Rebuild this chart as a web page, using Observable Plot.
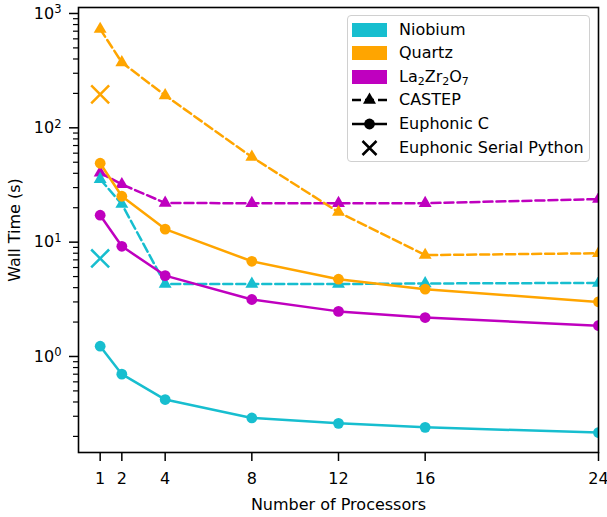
<!DOCTYPE html>
<html>
<head>
<meta charset="utf-8">
<script src="https://cdn.jsdelivr.net/npm/d3@7"></script>
<script src="https://cdn.jsdelivr.net/npm/@observablehq/plot@0.6"></script>
<style>
  html, body { margin: 0; padding: 0; background: white; }
  #wrap { position: relative; width: 607px; height: 517px; font-family: "DejaVu Sans", sans-serif; }
  #legend { position: absolute; left: 347px; top: 15px; width: 241px; height: 145px;
    border: 1.5px solid #d0d0d0; border-radius: 4px; background: rgba(255,255,255,0.85); font-size: 16px; color: #000; }
  .row { position: absolute; left: 0; height: 20px; width: 100%; }
  .row svg { position: absolute; left: 4px; top: 0; }
  .row span { position: absolute; left: 51px; top: 0; line-height: 20px; white-space: nowrap; }
  sub { font-size: 11px; vertical-align: -3px; line-height: 0; }
</style>
</head>
<body>
<div id="wrap"></div>
<script>
// ---- data ----
const procs = [1, 2, 4, 8, 12, 16, 24];
const materials = ["Niobium", "Quartz", "La2Zr2O7"];
const colors = ["#17becf", "#ffa500", "#bf00bf"];
const niobiumCastep = [35.5, 21.5, 4.3, 4.3, 4.3, 4.35, 4.4];
const niobiumEuphonicC = [1.23, 0.70, 0.42, 0.29, 0.26, 0.24, 0.216];
const niobiumSerialPython = [7.2];
const quartzCastep = [730, 373, 192, 55.5, 18.3, 7.7, 8.0];
const quartzEuphonicC = [49, 25.2, 13, 6.8, 4.74, 3.88, 3.0];
const quartzSerialPython = [196];
const laCastep = [40.4, 32, 22, 21.9, 21.9, 21.9, 23.8];
const laEuphonicC = [17.2, 9.2, 5.1, 3.15, 2.48, 2.19, 1.86];
const laSerialPython = [];
const serialProcs = [1];
const yMajorTicks = [1, 10, 100, 1000];
const yMajorExponents = ["0", "1", "2", "3"];
const xLabel = "Number of Processors";
const yLabel = "Wall Time (s)";

const rows = (xs, ys) => ys.map((v, i) => ({x: xs[i], y: v}));
const castep = [niobiumCastep, quartzCastep, laCastep];
const euph = [niobiumEuphonicC, quartzEuphonicC, laEuphonicC];
const serial = [niobiumSerialPython, quartzSerialPython, laSerialPython];

const yMinor = [];
for (const d of [0.1, 1, 10, 100]) for (let k = 2; k <= 9; k++) yMinor.push(+(k * d).toPrecision(3));

const marks = [];
// CASTEP lines (dashed, triangles)
for (const i of [2, 1, 0]) {
  const data = rows(procs, castep[i]);
  marks.push(Plot.line(data, {x: "x", y: "y", stroke: colors[i], strokeWidth: 2.5, strokeDasharray: "9,4", clip: true}));
  marks.push(Plot.dot(data, {x: "x", y: "y", symbol: "triangle", r: 4.8, fill: colors[i], stroke: "none", clip: true}));
}
// Euphonic C lines (solid, circles)
for (const i of [2, 1, 0]) {
  const data = rows(procs, euph[i]);
  marks.push(Plot.line(data, {x: "x", y: "y", stroke: colors[i], strokeWidth: 2.5, clip: true}));
  marks.push(Plot.dot(data, {x: "x", y: "y", symbol: "circle", r: 5.4, fill: colors[i], stroke: "none", clip: true}));
}
// Euphonic serial python (X)
for (const i of [0, 1, 2]) {
  const data = rows(serialProcs, serial[i]);
  marks.push(Plot.dot(data, {x: "x", y: "y", symbol: "times", r: 8.2, stroke: colors[i], strokeWidth: 2.5, clip: true}));
}

const chart = Plot.plot({
  width: 607, height: 517,
  marginLeft: 78, marginRight: 9, marginTop: 7, marginBottom: 65,
  style: {fontFamily: "DejaVu Sans, sans-serif", fontSize: "16px", color: "black", background: "white", overflow: "visible"},
  x: {domain: [0, 24]},
  y: {type: "log", domain: [0.1446, 1128]},
  marks: [
    ...marks,
    Plot.axisX({ticks: procs, tickSize: 9, tickPadding: 11, strokeWidth: 1.5, tickFormat: d => String(d),
      label: xLabel, labelAnchor: "center", labelArrow: "none", labelOffset: 57}),
    Plot.axisY({ticks: yMajorTicks, tickSize: 9, tickPadding: 8, strokeWidth: 1.5,
      tickFormat: d => "10^" + yMajorExponents[yMajorTicks.indexOf(d)],
      label: yLabel, labelAnchor: "center", labelArrow: "none", labelOffset: 70}),
    Plot.axisY({ticks: yMinor, tickSize: 5, strokeWidth: 1.2, tickFormat: () => "", label: null}),
    Plot.frame({stroke: "black", strokeWidth: 1.6})
  ]
});

// render y tick labels as 10 with a raised exponent
chart.querySelectorAll('g[aria-label="y-axis tick label"] text').forEach(t => {
  const s = t.textContent;
  if (s.startsWith("10^")) {
    const exp = s.slice(3);
    t.textContent = "";
    const base = document.createElementNS("http://www.w3.org/2000/svg", "tspan");
    base.textContent = "10";
    const sup = document.createElementNS("http://www.w3.org/2000/svg", "tspan");
    sup.textContent = exp;
    sup.setAttribute("dy", "-0.45em");
    sup.setAttribute("font-size", "11.5px");
    t.appendChild(base);
    t.appendChild(sup);
  }
});

const wrap = document.getElementById("wrap");
wrap.appendChild(chart);

// ---- legend ----
const legend = document.createElement("div");
legend.id = "legend";
const entries = [
  {svg: `<rect x="0" y="3" width="35" height="14" fill="${colors[0]}"/>`, text: "Niobium"},
  {svg: `<rect x="0" y="3" width="35" height="14" fill="${colors[1]}"/>`, text: "Quartz"},
  {svg: `<rect x="0" y="3" width="35" height="14" fill="${colors[2]}"/>`, text: "La<sub>2</sub>Zr<sub>2</sub>O<sub>7</sub>"},
  {svg: `<line x1="0" y1="10" x2="35" y2="10" stroke="black" stroke-width="2.5" stroke-dasharray="9,4"/><path d="M17.5,2.5 L24,13.8 L11,13.8 Z" fill="black"/>`, text: "CASTEP"},
  {svg: `<line x1="0" y1="10" x2="35" y2="10" stroke="black" stroke-width="2.5"/><circle cx="17.5" cy="10" r="5.4" fill="black"/>`, text: "Euphonic C"},
  {svg: `<path d="M10.5,3 L24.5,17 M24.5,3 L10.5,17" stroke="black" stroke-width="2.5"/>`, text: "Euphonic Serial Python"}
];
const centers = [14, 37, 61, 84, 108, 132];
entries.forEach((e, i) => {
  const r = document.createElement("div");
  r.className = "row";
  r.style.top = (centers[i] - 10) + "px";
  r.innerHTML = `<svg width="36" height="20">${e.svg}</svg><span>${e.text}</span>`;
  legend.appendChild(r);
});
wrap.appendChild(legend);
</script>
</body>
</html>
